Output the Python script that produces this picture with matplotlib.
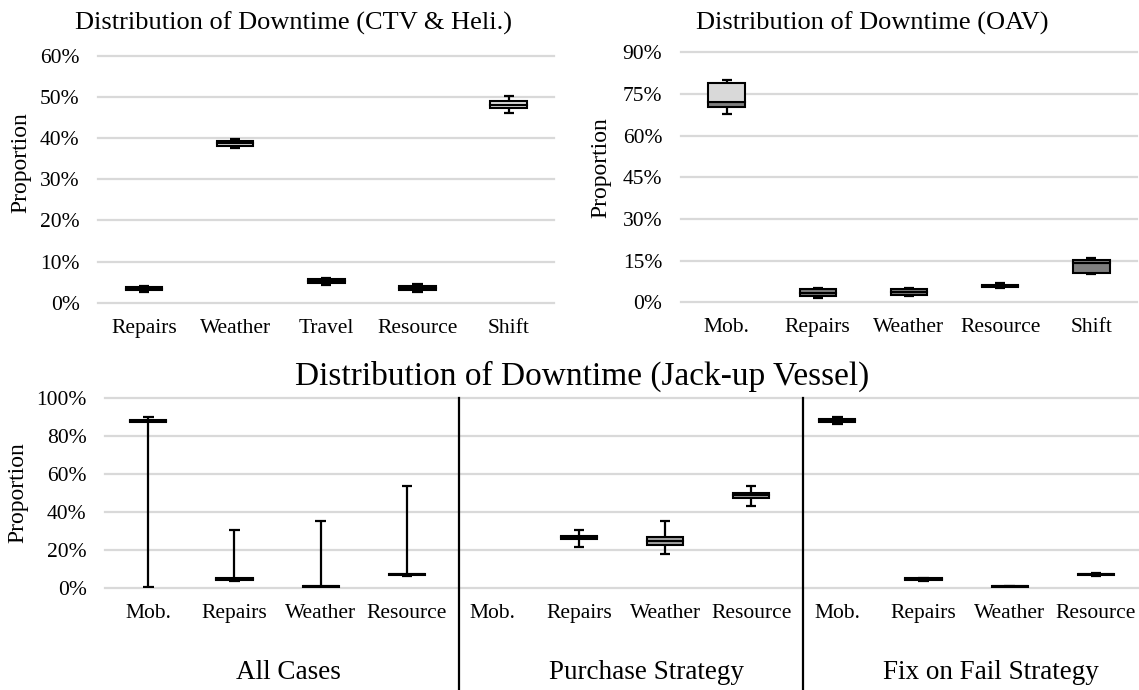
"""
Distribuição do downtime por causa (CTV & Heli., OAV, Jack-up Vessel).
Recria o painel de box plots estilo Excel.
"""

import matplotlib

matplotlib.use("Agg")
import matplotlib.pyplot as plt
import matplotlib.transforms as mtransforms
import numpy as np

plt.rcParams["font.family"] = ["Liberation Serif", "DejaVu Serif"]

# ------------------------------------------------------------------
# Dados (em %): mínimo, Q1, mediana, Q3, máximo
# ------------------------------------------------------------------
ctv_cats = ["Repairs", "Weather", "Travel", "Resource", "Shift"]
ctv_min = [2.6, 37.6, 4.4, 2.5, 46.2]
ctv_q1 = [3.0, 38.1, 4.7, 3.0, 47.3]
ctv_med = [3.3, 38.8, 5.2, 3.5, 48.2]
ctv_q3 = [3.7, 39.4, 5.8, 4.1, 49.0]
ctv_max = [4.0, 39.8, 6.0, 4.6, 50.3]

oav_cats = ["Mob.", "Repairs", "Weather", "Resource", "Shift"]
oav_min = [67.9, 1.7, 2.4, 5.3, 10.1]
oav_q1 = [70.3, 2.2, 2.8, 5.6, 10.4]
oav_med = [72.1, 3.5, 3.7, 6.0, 14.1]
oav_q3 = [78.9, 4.8, 4.7, 6.4, 15.1]
oav_max = [79.9, 5.2, 5.2, 6.8, 16.1]

jack_cats = ["Mob.", "Repairs", "Weather", "Resource"] * 3
jack_groups = ["All Cases", "Purchase Strategy", "Fix on Fail Strategy"]
jack_min = [0.3, 3.3, 0.5, 6.2, np.nan, 21.6, 17.8, 43.3, 86.3, 3.6, 0.5, 6.3]
jack_q1 = [87.6, 4.0, 0.6, 6.7, np.nan, 25.9, 22.6, 47.6, 87.7, 3.9, 0.6, 6.6]
jack_med = [88.2, 4.5, 0.8, 7.0, np.nan, 26.7, 24.7, 48.8, 88.5, 4.4, 0.7, 7.0]
jack_q3 = [88.8, 5.0, 1.0, 7.4, np.nan, 27.5, 26.8, 50.0, 89.3, 4.9, 0.9, 7.4]
jack_max = [90.3, 30.5, 35.0, 53.7, np.nan, 30.5, 35.0, 53.7, 90.3, 5.2, 1.0, 7.6]

# ------------------------------------------------------------------
# Layout (pixels da figura 1139x690)
# ------------------------------------------------------------------
W, H = 1139, 690
GRID = "#d9d9d9"
FS_TICK = 15.5
FS_YLAB = 17


def px_axes(left, top, right, bottom):
    return [left / W, 1 - bottom / H, (right - left) / W, (bottom - top) / H]


def estilo(ax, cats, ymax, step):
    ax.set_xlim(-0.5, len(cats) - 0.5)
    ax.set_ylim(0, ymax)
    ax.set_yticks(np.arange(0, ymax + 0.1, step))
    ax.set_yticklabels([f"{v:.0f}%" for v in np.arange(0, ymax + 0.1, step)], fontsize=FS_TICK)
    ax.set_xticks(range(len(cats)))
    ax.set_xticklabels(cats, fontsize=FS_TICK)
    for s in ax.spines.values():
        s.set_visible(False)
    ax.tick_params(axis="both", length=0)
    ax.tick_params(axis="y", pad=13.5)
    ax.tick_params(axis="x", pad=11.5)
    ax.yaxis.grid(True, color=GRID, linewidth=1.6)
    ax.set_axisbelow(True)
    for gl in ax.get_ygridlines():
        gl.set_clip_on(False)


def caixas(ax, lo, q1, med, q3, hi, c_low, c_up, width=0.4, cap=0.11):
    lo, q1, med, q3, hi = map(np.asarray, (lo, q1, med, q3, hi))
    pos = np.arange(len(q1))
    ok = ~np.isnan(q1)
    pos, lo, q1, med, q3, hi = pos[ok], lo[ok], q1[ok], med[ok], q3[ok], hi[ok]
    c_low = np.asarray(c_low, dtype=object)[ok]
    c_up = np.asarray(c_up, dtype=object)[ok]
    ax.vlines(pos, lo, q1, color="black", linewidth=1.6, zorder=2)
    ax.vlines(pos, q3, hi, color="black", linewidth=1.6, zorder=2)
    ax.hlines(lo, pos - cap / 2, pos + cap / 2, color="black", linewidth=1.6, zorder=2)
    ax.hlines(hi, pos - cap / 2, pos + cap / 2, color="black", linewidth=1.6, zorder=2)
    ax.bar(pos, med - q1, width, bottom=q1, color=list(c_low), edgecolor="black",
           linewidth=1.5, zorder=3)
    ax.bar(pos, q3 - med, width, bottom=med, color=list(c_up), edgecolor="black",
           linewidth=1.5, zorder=3)


fig = plt.figure(figsize=(W / 100, H / 100), dpi=100)

# --- CTV & Heli. ---
ax1 = fig.add_axes(px_axes(98.3, 56.0, 554.3, 302.7))
estilo(ax1, ctv_cats, 60, 10)
caixas(ax1, ctv_min, ctv_q1, ctv_med, ctv_q3, ctv_max,
       ["#d9d9d9"] * 5, ["#d9d9d9"] * 5)
fig.text(294 / W, 1 - 30 / H, "Distribution of Downtime (CTV & Heli.)",
         ha="center", va="baseline", fontsize=19)
fig.text(21 / W, 1 - 162.5 / H, "Proportion", rotation=90, ha="center", va="center",
         fontsize=FS_YLAB)

# --- OAV ---
ax2 = fig.add_axes(px_axes(681.0, 52.3, 1137.0, 302.3))
estilo(ax2, oav_cats, 90, 15)
caixas(ax2, oav_min, oav_q1, oav_med, oav_q3, oav_max,
       ["#7f7f7f"] * 5, ["#d9d9d9", "#7f7f7f", "#7f7f7f", "#7f7f7f", "#7f7f7f"])
fig.text(872.5 / W, 1 - 29.5 / H, "Distribution of Downtime (OAV)",
         ha="center", va="baseline", fontsize=19)
fig.text(601 / W, 1 - 167.5 / H, "Proportion", rotation=90, ha="center", va="center",
         fontsize=FS_YLAB)

# --- Jack-up Vessel ---
ax3 = fig.add_axes(px_axes(105.3, 398.3, 1138.8, 587.7))
estilo(ax3, jack_cats, 100, 20)
caixas(ax3, jack_min, jack_q1, jack_med, jack_q3, jack_max,
       ["#a6a6a6"] * 12, ["#a6a6a6"] * 12, width=0.42, cap=0.12)
fig.text(582 / W, 1 - 385 / H, "Distribution of Downtime (Jack-up Vessel)",
         ha="center", va="baseline", fontsize=24)
fig.text(18 / W, 1 - 492.5 / H, "Proportion", rotation=90, ha="center", va="center",
         fontsize=FS_YLAB)

# divisórias e rótulos dos grupos
trans = mtransforms.blended_transform_factory(ax3.transData, fig.transFigure)
topo = 1 - 398.3 / H
for xd in [3.61, 7.6]:
    ax3.plot([xd, xd], [0, topo], color="black", linewidth=1.6, transform=trans, clip_on=False)
for xg, nome in zip([1.63, 5.78, 9.78], jack_groups):
    ax3.text(xg, 1 - 679 / H, nome, ha="center", va="baseline", fontsize=19.5, transform=trans)

fig.savefig("out.png", dpi=100)
